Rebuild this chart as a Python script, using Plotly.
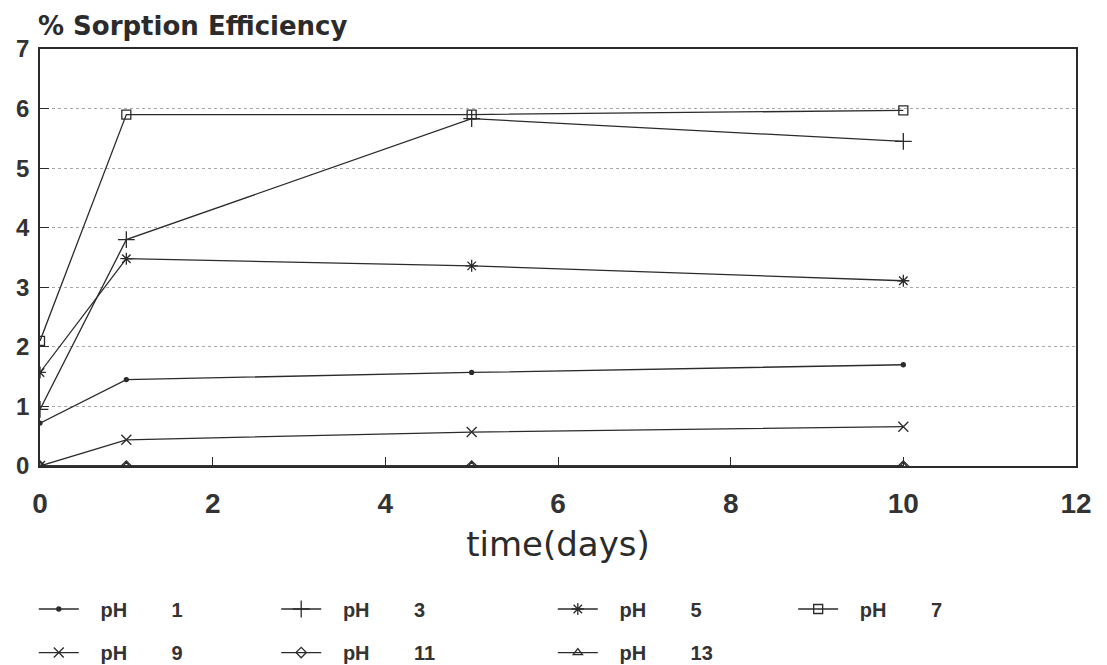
import plotly.graph_objects as go

# sampling times (days)
days = [0, 1, 5, 10]

# % sorption efficiency for each pH
ph1 = [0.72, 1.45, 1.57, 1.70]
ph3 = [0.95, 3.80, 5.83, 5.45]
ph5 = [1.57, 3.48, 3.36, 3.11]
ph7 = [2.10, 5.90, 5.90, 5.97]
ph9 = [0.00, 0.44, 0.57, 0.66]
ph11 = [0.00, 0.00, 0.00, 0.00]
ph13 = [0.00, 0.00, 0.00, 0.00]

series_names = ["pH 1", "pH 3", "pH 5", "pH 7", "pH 9", "pH 11", "pH 13"]
series_values = [ph1, ph3, ph5, ph7, ph9, ph11, ph13]
x_ticks = [0, 2, 4, 6, 8, 10, 12]
y_ticks = [0, 1, 2, 3, 4, 5, 6, 7]

symbols = ["circle", "cross-thin-open", "asterisk-open", "square-open",
           "x-thin-open", "diamond-open", "triangle-up-open"]
sizes = [4, 12, 10, 9, 10, 8, 8]

# legend placement: two rows, four columns (x in paper, y in container coords)
row1, row2 = 0.1135, 0.048
legend_pos = [(-0.006, row1), (0.228, row1), (0.495, row1), (0.727, row1),
              (-0.006, row2), (0.228, row2), (0.495, row2)]

ink = "#2b2b2b"
font_family = "Liberation Sans, Arial, sans-serif"
wide_family = "DejaVu Sans, sans-serif"

fig = go.Figure()
for i, (name, vals) in enumerate(zip(series_names, series_values)):
    ph_label, ph_num = name.split()
    label = "\u00a0" * 3 + ph_label + "\u00a0" * 8 + ph_num
    fig.add_trace(go.Scatter(
        x=days, y=vals, mode="lines+markers", name=label,
        line=dict(color=ink, width=1.3),
        marker=dict(symbol=symbols[i], size=sizes[i], color=ink,
                    line=dict(color=ink, width=1.3)),
        legend="legend" if i == 0 else f"legend{i + 1}",
        showlegend=True,
    ))

legend_common = dict(
    orientation="v", xanchor="left", yanchor="top", yref="container",
    font=dict(family=font_family, size=20, color="#333333", weight="bold"),
    bgcolor="rgba(0,0,0,0)", itemwidth=40,
)
layout_legends = {}
for i, (lx, ly) in enumerate(legend_pos):
    key = "legend" if i == 0 else f"legend{i + 1}"
    layout_legends[key] = dict(x=lx, y=ly, **legend_common)

fig.update_layout(
    width=1107, height=665,
    margin=dict(l=40, r=31, t=49, b=199, autoexpand=False),
    paper_bgcolor="white", plot_bgcolor="white",
    font=dict(family=font_family, color=ink),
    showlegend=True,
    xaxis=dict(
        range=[0, 12], tickvals=x_ticks, ticks="inside", ticklen=9,
        tickcolor=ink, tickwidth=1.2, automargin=False,
        showgrid=False, zeroline=False,
        showline=True, linecolor=ink, linewidth=1.5, mirror=True,
        tickfont=dict(size=28, color="#333333", weight="bold"),
        ticklabelstandoff=12,
        title=dict(text="time(days)",
                   font=dict(family=wide_family, size=34, color=ink),
                   standoff=14),
    ),
    yaxis=dict(
        range=[0, 7], tickvals=y_ticks, ticks="inside", ticklen=9,
        tickcolor=ink, tickwidth=1.2, automargin=False,
        showgrid=True, gridcolor="#a8a8a8", gridwidth=1, griddash="dot",
        zeroline=False,
        showline=True, linecolor=ink, linewidth=1.5, mirror=True,
        tickfont=dict(size=24, color="#333333", weight="bold"),
        ticklabelstandoff=4,
    ),
    annotations=[dict(
        text="% Sorption Efficiency", xref="paper", yref="paper",
        x=-0.004, y=1.014, xanchor="left", yanchor="bottom", showarrow=False,
        font=dict(family=wide_family, size=26, color=ink, weight="bold"),
    )],
    **layout_legends,
)

fig.write_html("out.html")
